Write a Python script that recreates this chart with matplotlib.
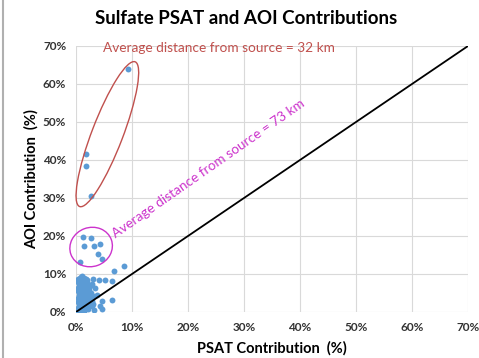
import matplotlib
matplotlib.use('Agg')
import matplotlib.pyplot as plt
from matplotlib.patches import Ellipse
from matplotlib.transforms import ScaledTranslation
from matplotlib.ticker import PercentFormatter

# red group (nearby sources)
near_x = [9.2, 1.8, 1.8, 2.6]
near_y = [64.0, 41.6, 38.3, 30.5]

# magenta group
mid_x = [1.2, 2.6, 1.4, 3.2, 4.3, 4.0, 4.6, 0.7]
mid_y = [19.8, 19.6, 17.5, 17.4, 17.8, 15.2, 13.9, 13.2]

# everything else
rest_x = [0.4, 0.6, 0.9, 1.2, 1.5, 1.8, 2.1, 0.5, 0.8, 1.1, 1.4, 1.7, 2.0, 2.4,
          0.6, 0.9, 1.3, 1.6, 1.9, 2.3, 0.5, 0.8, 1.2, 1.5, 1.8, 2.2, 0.6, 1.0,
          1.3, 1.7, 2.0, 0.5, 0.8, 1.1, 1.5, 0.6, 0.9, 1.2, 0.7, 1.0, 2.6, 2.8,
          3.0, 2.5, 2.7, 3.1, 0.3, 0.4, 1.9, 3.3,
          0.3, 0.7, 1.0, 1.4, 1.9, 2.3, 0.4, 1.1, 1.6, 2.1, 0.3, 0.7, 1.4, 2.2,
          0.4, 0.9, 1.6, 2.4, 0.3, 1.1, 1.9, 0.5, 1.3, 2.0, 0.4, 0.9, 1.4, 1.8,
          2.6, 2.9,
          3.1, 4.1, 5.2, 6.4, 6.7, 8.6, 2.9, 3.4, 6.4, 4.7, 4.6, 3.8, 4.2]
rest_y = [0.3, 0.8, 0.5, 1.0, 0.6, 1.2, 0.9, 1.6, 2.2, 1.8, 2.5, 2.0, 2.8, 2.3,
          3.1, 3.6, 3.2, 3.9, 3.4, 4.0, 4.4, 4.9, 4.6, 5.2, 4.8, 5.5, 5.8, 6.2,
          5.9, 6.5, 6.1, 6.9, 7.3, 7.0, 7.6, 8.1, 8.5, 8.2, 9.0, 9.4, 3.0, 1.5,
          2.2, 6.8, 5.0, 4.3, 2.6, 7.8, 7.9, 0.6,
          0.1, 0.2, 1.3, 0.3, 2.2, 1.6, 1.1, 2.7, 3.0, 3.7, 3.8, 4.2, 4.3, 4.7,
          5.4, 5.5, 5.7, 5.9, 6.4, 6.7, 7.1, 7.6, 7.9, 8.3, 8.8, 9.2, 9.0, 8.6,
          4.0, 2.9,
          8.7, 8.5, 8.4, 8.2, 10.8, 12.2, 7.5, 6.3, 3.2, 3.0, 0.8, 4.5, 1.6]

ticks = [0, 10, 20, 30, 40, 50, 60, 70]

plt.rcParams['font.family'] = ['Lato', 'DejaVu Sans']

fig = plt.figure(figsize=(4.79, 3.58), dpi=100)
ax = fig.add_axes([76/479, 46/358, 392/479, 266/358])

ax.scatter(near_x + mid_x + rest_x, near_y + mid_y + rest_y, s=18,
           color='#5B9BD5', zorder=3, linewidths=0)
ax.plot([0, 70], [0, 70], color='black', lw=1.3, zorder=4)

ax.set_xlim(0, 70)
ax.set_ylim(0, 70)
ax.set_xticks(ticks)
ax.set_yticks(ticks)
ax.xaxis.set_major_formatter(PercentFormatter(decimals=0))
ax.yaxis.set_major_formatter(PercentFormatter(decimals=0))
ax.grid(True, color='#d9d9d9', lw=0.8)
ax.set_axisbelow(True)
for s in ax.spines.values():
    s.set_visible(False)
ax.tick_params(length=0, labelsize=8.5, labelcolor='#333333', pad=7)
for lab in ax.get_xticklabels() + ax.get_yticklabels():
    lab.set_fontweight('bold')

ax.set_xlabel('PSAT Contribution  (%)', fontsize=10.5, fontweight='bold', labelpad=6)
ax.set_ylabel('AOI Contribution  (%)', fontsize=10.5, fontweight='bold', labelpad=3)
fig.text(0.513, 1 - 18/358, 'Sulfate PSAT and AOI Contributions', ha='center',
         va='center', fontsize=13.5, fontweight='bold')

# ellipses sized in pixels, placed in data coords
def ring(cx, cy, w, h, ang, col):
    tr = fig.dpi_scale_trans + ScaledTranslation(cx, cy, ax.transData)
    e = Ellipse((0, 0), w/100, h/100, angle=ang, fill=False, edgecolor=col,
                lw=1.0, transform=tr, zorder=5, clip_on=False)
    ax.add_patch(e)

ring(5.6, 46.8, 155, 31, 69, '#C0504D')
ring(2.7, 17.1, 43, 39, 20, '#CC33CC')

ax.text(4.8, 69.5, 'Average distance from source = 32 km', color='#C0504D',
        fontsize=9.8, va='center', ha='left')
ax.text(23.6, 37.6, 'Average distance from source = 73 km', color='#CC33CC',
        fontsize=9.8, va='center', ha='center', rotation=35, rotation_mode='anchor')

fig.add_artist(plt.Line2D([2.5/479, 2.5/479], [0, 1], color='#b0b0b0', lw=1.5))

fig.savefig('out.png', dpi=100)
